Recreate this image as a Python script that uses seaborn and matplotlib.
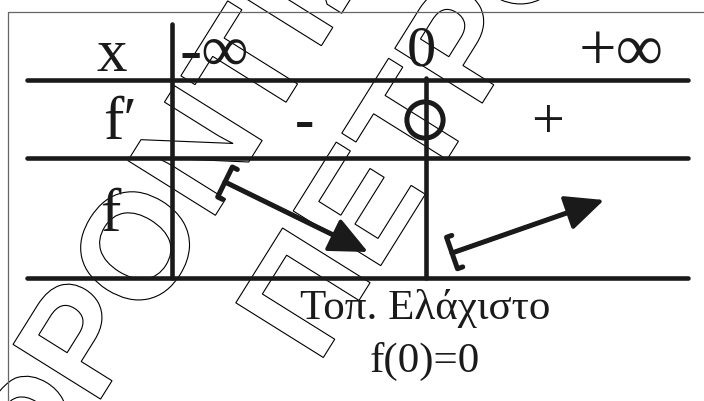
import numpy as np
import pandas as pd
import seaborn as sns
import matplotlib
matplotlib.use("Agg")
import matplotlib.pyplot as plt
from matplotlib.textpath import TextPath
from matplotlib.patches import PathPatch, FancyArrowPatch
from matplotlib.font_manager import FontProperties
from matplotlib.transforms import Affine2D

# table content
row_labels = ['x', 'f\u2032', 'f']
x_points = ['-\u221e', '0', '+\u221e']
signs = ['-', '+']
note_lines = ['\u03a4\u03bf\u03c0. \u0395\u03bb\u03ac\u03c7\u03b9\u03c3\u03c4\u03bf', 'f(0)=0']
watermark_lines = ['\u03a6\u03a1\u039f\u039d\u03a4\u0399\u03a3\u03a4\u0397\u03a1\u0399\u039f',
                   '\u03a0\u0395\u03a4\u03a1\u039f\u03a5']

# layout (pixel coords, y down)
W, H = 704, 401
rule_y = [80, 158, 278]
rule_x = [27, 688]
col_x = [172, 426]
col_top = [24, 78]
label_pos = [(112, 56), (120, 124), (110, 216)]
xpoint_pos = [(180, 54, 'left', 48), (421, 51, 'center', 42), (621, 53, 'center', 48)]
sign_pos = [(305, 124), (548, 124)]
zero_mark = pd.DataFrame({'x': [425], 'y': [120]})
trend_arrows = [((225, 182), (368, 252)), ((452, 253), (604, 200))]
note_pos = [(425, 309), (425, 361)]
wm_start = [(30, 512), (318, 366)]
wm_angle = 58
wm_size = 150

INK = '#1a1a1a'

sns.set_style('white')
plt.rcParams['font.family'] = ['Liberation Serif', 'DejaVu Serif']

fig = plt.figure(figsize=(W / 100, H / 100), dpi=100)
ax = fig.add_axes([0, 0, 1, 1])

# watermark outline text
wm_font = FontProperties(family='Liberation Sans', weight='bold')
for txt, (sx, sy) in zip(watermark_lines, wm_start):
    tp = TextPath((0, 0), txt, size=wm_size, prop=wm_font)
    tr = Affine2D().scale(1, -1).rotate_deg(-wm_angle).translate(sx, sy) + ax.transData
    ax.add_patch(PathPatch(tp, transform=tr, facecolor='none', edgecolor='black', lw=0.8, zorder=1))

# outer frame (partly cut by the picture edge)
ax.plot([8, W], [12, 12], color='#666666', lw=0.9, zorder=2)
ax.plot([8, 8], [12, H], color='#666666', lw=0.9, zorder=2)

# table rules through seaborn
segs = []
for i, y in enumerate(rule_y):
    segs += [dict(seg=f'h{i}', x=rule_x[0], y=y), dict(seg=f'h{i}', x=rule_x[1], y=y)]
for i, (x, top) in enumerate(zip(col_x, col_top)):
    segs += [dict(seg=f'v{i}', x=x, y=top), dict(seg=f'v{i}', x=x, y=rule_y[-1])]
df = pd.DataFrame(segs)
sns.lineplot(data=df, x='x', y='y', units='seg', estimator=None, sort=False,
             color=INK, lw=3.3, legend=False, ax=ax, zorder=3)

# row labels and x values
for lab, (x, y) in zip(row_labels, label_pos):
    ax.text(x, y, lab, fontsize=44, ha='center', va='center', color=INK, zorder=4)
for val, (x, y, ha, fs) in zip(x_points, xpoint_pos):
    ax.text(x, y, val, fontsize=fs, ha=ha, va='center', color=INK, zorder=4)

# signs of f' and the zero ring
for s, (x, y) in zip(signs, sign_pos):
    ax.text(x, y, s, fontsize=42, ha='center', va='center', color=INK,
            fontweight='bold' if s == '-' else 'normal', zorder=4)
sns.scatterplot(data=zero_mark, x='x', y='y', marker='o', s=680, facecolors='none',
                edgecolor=INK, linewidth=3.6, ax=ax, zorder=4, legend=False)

# monotonicity arrows
for a, b in trend_arrows:
    ax.add_patch(FancyArrowPatch(a, b, arrowstyle='-|>,head_length=1.2,head_width=0.55',
                                 mutation_scale=20, lw=2.8, color=INK, shrinkA=0, shrinkB=0, zorder=5))
    ax.add_patch(FancyArrowPatch(a, b, arrowstyle=']-,widthA=0.6,lengthA=-0.2',
                                 mutation_scale=20, lw=3.6, color=INK, shrinkA=0, shrinkB=8, zorder=5))

# note under the critical point
for t, (x, y) in zip(note_lines, note_pos):
    ax.text(x, y, t, fontsize=31, ha='center', va='center', color=INK, zorder=4)

ax.set_xlim(0, W)
ax.set_ylim(H, 0)
ax.axis('off')
fig.savefig('out.png', dpi=100)
